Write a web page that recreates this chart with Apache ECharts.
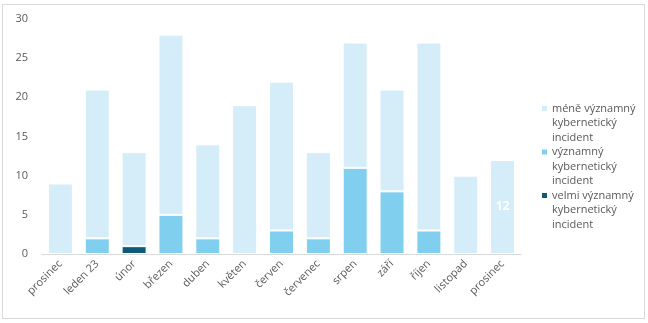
<!DOCTYPE html>
<html>
<head>
<meta charset="utf-8">
<script src="https://cdn.jsdelivr.net/npm/echarts@6/dist/echarts.min.js"></script>
<style>
  html, body { margin: 0; padding: 0; background: #fff; }
  #wrap { position: relative; width: 648px; height: 323px; }
  #chart { width: 648px; height: 323px; }
  #frame { position: absolute; left: 2px; top: 4px; width: 641px; height: 313px;
           border: 1px solid #d9d9d9; pointer-events: none; }
</style>
</head>
<body>
<div id="wrap">
  <div id="chart"></div>
  <div id="frame"></div>
</div>
<script>
// Monthly counts of reported cyber incidents by severity
const months = ['prosinec', 'leden 23', 'únor', 'březen', 'duben', 'květen', 'červen',
                'červenec', 'srpen', 'září', 'říjen', 'listopad', 'prosinec'];
const veryMajor = [0, 0, 1, 0, 0, 0, 0, 0, 0, 0, 0, 0, 0];
const major     = [0, 2, 0, 5, 2, 0, 3, 2, 11, 8, 3, 0, 0];
const minor     = [9, 19, 12, 23, 12, 19, 19, 11, 16, 13, 24, 10, 12];
const yTicks = { min: 0, max: 30, interval: 5 };

const seriesNames = [
  'méně významný\nkybernetický\nincident',
  'významný\nkybernetický\nincident',
  'velmi významný\nkybernetický\nincident'
];
const colors = { minor: '#d5edf8', major: '#80cfee', veryMajor: '#0e5977' };

const gray = '#595959';
const lineH = 14.5;

// legend swatch: a small square at the top of a tall, otherwise empty box,
// so it sits beside the first line of the three-line label
const swatch = 'path://M0,0h0.01M0,0.95h1v1h-1zM0,8.7h0.01';

// empty segments are skipped so they leave no white edge on the baseline
const toData = arr => arr.map(v => (v === 0 ? null : v));

const barStyle = c => ({ color: c, borderColor: '#ffffff', borderWidth: 1 });

const chart = echarts.init(document.getElementById('chart'), null, { renderer: 'canvas' });
chart.setOption({
  animation: false,
  textStyle: { fontFamily: 'Open Sans, Liberation Sans, sans-serif' },
  grid: { left: 42, right: 127, top: 19, bottom: 69 },
  legend: {
    orient: 'vertical',
    left: 537,
    top: 101 - 7.25 + 2.5,
    itemWidth: 5,
    itemHeight: 3 * lineH,
    itemGap: 0,
    icon: swatch,
    itemStyle: { borderWidth: 0 },
    data: [seriesNames[0], seriesNames[1], seriesNames[2]],
    textStyle: { color: gray, fontSize: 11, lineHeight: lineH }
  },
  xAxis: {
    type: 'category',
    data: months,
    axisLine: { lineStyle: { color: '#d9d9d9', width: 1 } },
    axisTick: { length: 0, lineStyle: { color: 'rgba(0,0,0,0)' } },
    axisLabel: { color: gray, fontSize: 11, rotate: 45 }
  },
  yAxis: {
    type: 'value',
    min: yTicks.min, max: yTicks.max, interval: yTicks.interval,
    axisLine: { show: false },
    axisTick: { show: false },
    splitLine: { show: false },
    axisLabel: { color: gray, fontSize: 11, margin: 14 }
  },
  series: [
    {
      name: seriesNames[2], type: 'bar', stack: 'all', barWidth: 25,
      data: toData(veryMajor), itemStyle: barStyle(colors.veryMajor)
    },
    {
      name: seriesNames[1], type: 'bar', stack: 'all', barWidth: 25,
      data: toData(major), itemStyle: barStyle(colors.major)
    },
    {
      name: seriesNames[0], type: 'bar', stack: 'all', barWidth: 25,
      data: toData(minor).map((v, i) => i === minor.length - 1
        ? { value: v, label: { show: true, position: 'inside', color: '#fff', fontWeight: 'bold', fontSize: 12, formatter: '{c}' } }
        : v),
      itemStyle: barStyle(colors.minor)
    }
  ]
});
</script>
</body>
</html>
